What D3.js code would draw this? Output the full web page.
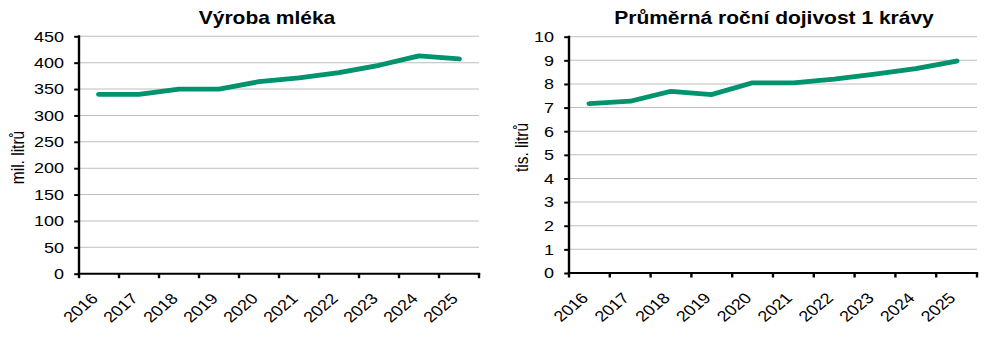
<!DOCTYPE html>
<html>
<head>
<meta charset="utf-8">
<script src="https://cdn.jsdelivr.net/npm/d3@7"></script>
<style>
  html, body { margin: 0; padding: 0; background: #fff; }
  svg { display: block; }
  text { font-family: "Liberation Sans", Arial, sans-serif; fill: #000; }
</style>
</head>
<body>
<svg id="chart" width="1000" height="338"></svg>
<script>
// Years shown on both charts
const years = ["2016", "2017", "2018", "2019", "2020", "2021", "2022", "2023", "2024", "2025"];

// Milk production, million litres
const milkProduction = [340, 340, 350, 350, 364, 371, 381, 395, 413, 407];
const milkTicks = [0, 50, 100, 150, 200, 250, 300, 350, 400, 450];

// Average annual milk yield per cow, thousand litres
const milkYield = [7.17, 7.27, 7.69, 7.55, 8.05, 8.05, 8.2, 8.42, 8.65, 8.97];
const yieldTicks = [0, 1, 2, 3, 4, 5, 6, 7, 8, 9, 10];

const titles = ["Výroba mléka", "Průměrná roční dojivost 1 krávy"];
const unitLabels = ["mil. litrů", "tis. litrů"];

// The drawing is laid out on a slightly narrower canvas and stretched to full width
const STRETCH = 1.2;
const W = 1000 / STRETCH, H = 338;
const svg = d3.select("#chart")
  .attr("viewBox", `0 0 ${W} ${H}`)
  .attr("preserveAspectRatio", "none");

const green = "#00936E";
const gridColor = "#BEBEBE";

function drawPanel(cfg) {
  const g = svg.append("g");
  const x = d3.scaleBand().domain(years).range([cfg.left, cfg.right]).padding(0);
  const y = d3.scaleLinear().domain([0, cfg.max]).range([cfg.bottom, cfg.top]);

  // horizontal gridlines
  g.append("g").selectAll("line")
    .data(cfg.ticks.filter(t => t > 0))
    .join("line")
    .attr("x1", cfg.left).attr("x2", cfg.right)
    .attr("y1", d => y(d)).attr("y2", d => y(d))
    .attr("stroke", gridColor).attr("stroke-width", 1);

  // y axis
  const yAxis = g.append("g")
    .attr("transform", `translate(${cfg.left},0)`)
    .call(d3.axisLeft(y).tickValues(cfg.ticks).tickSize(4).tickPadding(8.5).tickFormat(d3.format("d")));
  yAxis.select(".domain").remove();
  yAxis.selectAll(".tick line").attr("stroke", "#000").attr("stroke-width", 2);
  yAxis.selectAll(".tick text")
    .attr("font-size", 15)
    .attr("font-family", "Liberation Sans, Arial, sans-serif")
    .attr("fill", "#000");
  g.append("line")
    .attr("x1", cfg.left).attr("x2", cfg.left)
    .attr("y1", y(cfg.max) - 1).attr("y2", y(0))
    .attr("stroke", "#000").attr("stroke-width", 2);

  // x axis with ticks on category boundaries
  g.append("line")
    .attr("x1", cfg.left - 1).attr("x2", cfg.right + 1)
    .attr("y1", y(0)).attr("y2", y(0))
    .attr("stroke", "#000").attr("stroke-width", 2);
  const bounds = years.map(d => x(d)).concat([cfg.right]);
  g.append("g").selectAll("line")
    .data(bounds)
    .join("line")
    .attr("x1", d => d).attr("x2", d => d)
    .attr("y1", y(0)).attr("y2", y(0) + 4.5)
    .attr("stroke", "#000").attr("stroke-width", 2);

  // rotated year labels
  g.append("g").selectAll("text")
    .data(years)
    .join("text")
    .attr("text-anchor", "end")
    .attr("font-size", 15)
    .attr("transform", d => `translate(${x(d) + x.bandwidth() / 2},${y(0) + 26}) rotate(-45)`)
    .text(d => d);

  // data line
  const line = d3.line()
    .x((d, i) => x(years[i]) + x.bandwidth() / 2)
    .y(d => y(d));
  g.append("path")
    .datum(cfg.values)
    .attr("d", line)
    .attr("fill", "none")
    .attr("stroke", green)
    .attr("stroke-width", 4.8)
    .attr("stroke-linejoin", "round")
    .attr("stroke-linecap", "round");

  // title
  g.append("text")
    .attr("x", cfg.titleX).attr("y", 24)
    .attr("text-anchor", "middle")
    .attr("font-size", 17.5)
    .attr("font-weight", "bold")
    .text(cfg.title);

  // unit label
  g.append("text")
    .attr("transform", `translate(${cfg.unitX},${cfg.unitY}) rotate(-90)`)
    .attr("text-anchor", "middle")
    .attr("font-size", 15.5)
    .text(cfg.unit);
}

drawPanel({
  left: 79 / STRETCH, right: 479 / STRETCH, top: 36.3, bottom: 273.7,
  max: 450, ticks: milkTicks, values: milkProduction,
  title: titles[0], titleX: 267 / STRETCH,
  unit: unitLabels[0], unitX: 24 / STRETCH, unitY: 157.5
});

drawPanel({
  left: 569 / STRETCH, right: 977 / STRETCH, top: 36.7, bottom: 273,
  max: 10, ticks: yieldTicks, values: milkYield,
  title: titles[1], titleX: 774 / STRETCH,
  unit: unitLabels[1], unitX: 528 / STRETCH, unitY: 147.5
});
</script>
</body>
</html>
